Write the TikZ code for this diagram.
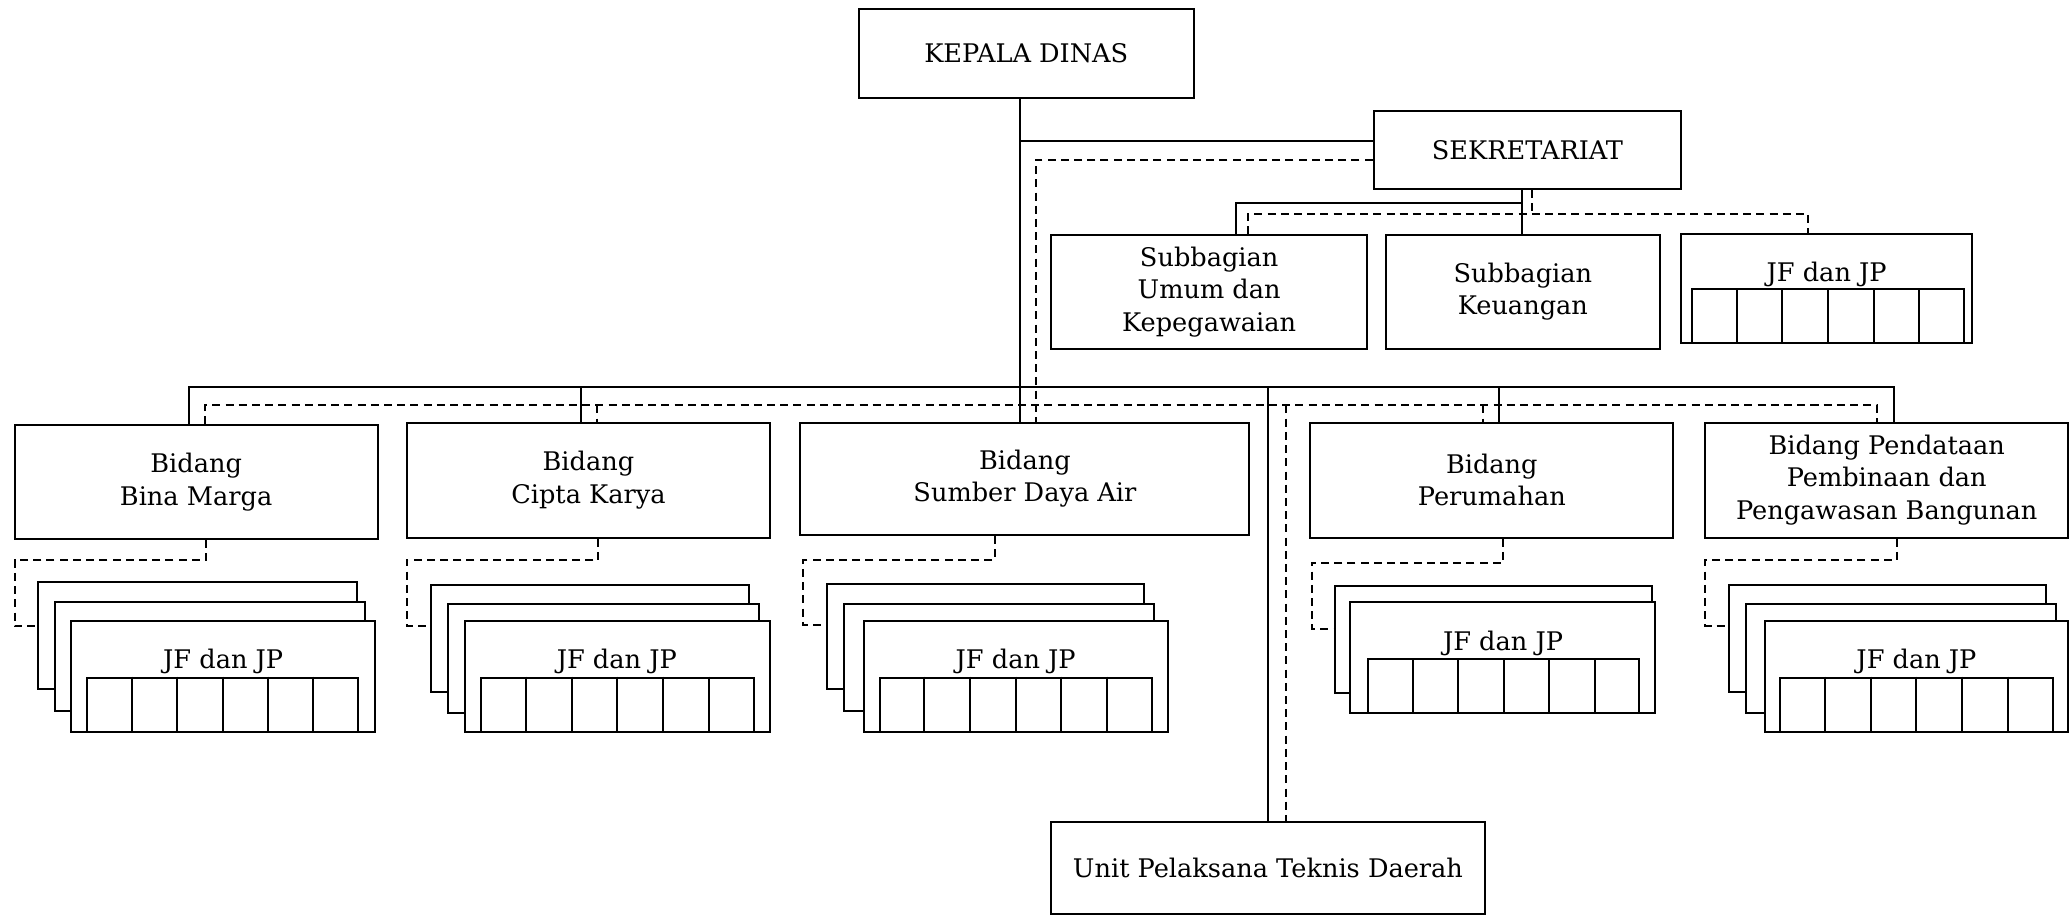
\documentclass[tikz,border=0pt]{standalone}
\usepackage{fontspec}
\setmainfont{DejaVu Serif}
\usetikzlibrary{calc}
\tikzset{
  bx/.style={draw, line width=1pt, fill=white, inner sep=1pt, align=center,
             font=\fontsize{12.8}{16.2}\selectfont},
  lbl/.style={inner sep=0pt, font=\fontsize{12.8}{16.2}\selectfont},
  sl/.style={line width=1pt},
  dl/.style={line width=1pt, dash pattern=on 4pt off 2.6pt},
}
\newcommand{\bx}[7][]{\node[bx,#1,minimum width={(#5-#3)*0.66pt},minimum height={(#6-#4)*0.66pt}] (#2) at ({(#3+#5)/2},{(#4+#6)/2}) {#7};}
\newcommand{\grid}[5]{\bx{#1}{#2}{#3}{#4}{#5}{}%
  \foreach \i in {1,...,5}{\draw[sl] ($(#1.north west)!\i/6!(#1.north east)$) -- ($(#1.south west)!\i/6!(#1.south east)$);}}
\begin{document}
\begin{tikzpicture}[x=0.66pt,y=-0.66pt]
\useasboundingbox (0,0) rectangle (1568,694);
% top level
\bx{kd}{650}{7}{904}{74}{KEPALA DINAS}
\bx{sek}{1040}{84}{1273}{143}{SEKRETARIAT}
\bx{sub}{796}{178}{1035}{264}{Subbagian\\Umum dan\\Kepegawaian}
\bx{keu}{1049}{178}{1257}{264}{Subbagian\\Keuangan}
\bx{jft}{1273}{177}{1493}{260}{}
\node[lbl] (jftt) at (1383,208) {JF dan JP};
\grid{jftg}{1281}{219}{1487}{260}
% bidang
\bx{bm}{11}{322}{286}{408}{Bidang\\Bina Marga}
\bx{ck}{308}{320}{583}{407}{Bidang\\Cipta Karya}
\bx{sda}{606}{320}{946}{405}{Bidang\\Sumber Daya Air}
\bx{per}{992}{320}{1267}{407}{Bidang\\Perumahan}
\bx{pen}{1291}{320}{1566}{407}{Bidang Pendataan\\Pembinaan dan\\Pengawasan Bangunan}
\bx{upt}{796}{622}{1124}{692}{Unit Pelaksana Teknis Daerah}
% stacks
\bx{bm1}{29}{441}{270}{522}{}
\bx{bm2}{42}{456}{276}{538}{}
\bx{bm3}{54}{470}{284}{554}{}
\node[lbl] (bmt) at (169,501) {JF dan JP};
\grid{bmg}{66}{513}{271}{554}
\bx{ck1}{326}{443}{567}{524}{}
\bx{ck2}{339}{457}{575}{540}{}
\bx{ck3}{352}{470}{583}{554}{}
\node[lbl] (ckt) at (467,501) {JF dan JP};
\grid{ckg}{364}{513}{571}{554}
\bx{sda1}{626}{442}{866}{522}{}
\bx{sda2}{639}{457}{874}{538}{}
\bx{sda3}{654}{470}{884}{554}{}
\node[lbl] (sdat) at (769,501) {JF dan JP};
\grid{sdag}{666}{513}{872}{554}
\bx{per1}{1011}{444}{1251}{525}{}
\bx{per2}{1022}{456}{1253}{540}{}
\node[lbl] (pert) at (1138,487) {JF dan JP};
\grid{perg}{1036}{499}{1241}{540}
\bx{pen1}{1309}{443}{1549}{524}{}
\bx{pen2}{1322}{457}{1557}{540}{}
\bx{pen3}{1336}{470}{1566}{554}{}
\node[lbl] (pent) at (1451,501) {JF dan JP};
\grid{peng}{1348}{513}{1554}{554}
% main line
\coordinate (j1) at (772,107);
\coordinate (j2) at (784,121);
\draw[sl] (j1 |- kd.south) -- (j1 |- sda.north);
\draw[sl] (j1) -- (j1 -| sek.west);
\draw[dl] (j2 -| sek.west) -- (j2) -- (j2 |- sda.north);
% sekretariat children
\coordinate (s1) at (1152,154);
\coordinate (s2) at (936,154);
\draw[sl] (s1 |- sek.south) -- (s1 |- keu.north);
\draw[sl] (s1) -- (s2) -- (s2 |- sub.north);
\coordinate (d1) at (1160,162);
\coordinate (d2) at (945,162);
\coordinate (d3) at (1369,162);
\draw[dl] (d1 |- sek.south) -- (d1);
\draw[dl] (d2 |- sub.north) -- (d2) -- (d3) -- (d3 |- jft.north);
% solid bus
\coordinate (sbm) at (143,293);
\coordinate (sck) at (440,293);
\coordinate (sup) at (960,293);
\coordinate (spe) at (1135,293);
\coordinate (spn) at (1434,293);
\draw[sl] (sbm |- bm.north) -- (sbm) -- (spn) -- (spn |- pen.north);
\draw[sl] (sck) -- (sck |- ck.north);
\draw[sl] (sup) -- (sup |- upt.north);
\draw[sl] (spe) -- (spe |- per.north);
% dashed bus
\coordinate (dbm) at (155,307);
\coordinate (dck) at (452,307);
\coordinate (dup) at (974,307);
\coordinate (dpe) at (1123,307);
\coordinate (dpn) at (1421,307);
\draw[dl] (dbm |- bm.north) -- (dbm) -- (dpn) -- (dpn |- pen.north);
\draw[dl] (dck) -- (dck |- ck.north);
\draw[dl] (dup) -- (dup |- upt.north);
\draw[dl] (dpe) -- (dpe |- per.north);
% dashed links to stacks
\coordinate (ebm) at (156,424); \coordinate (fbm) at (11,474);
\draw[dl] (ebm |- bm.south) -- (ebm) -- (fbm |- ebm) -- (fbm) -- (fbm -| bm1.west);
\coordinate (eck) at (453,424); \coordinate (fck) at (308,474);
\draw[dl] (eck |- ck.south) -- (eck) -- (fck |- eck) -- (fck) -- (fck -| ck1.west);
\coordinate (esd) at (753,424); \coordinate (fsd) at (608,473);
\draw[dl] (esd |- sda.south) -- (esd) -- (fsd |- esd) -- (fsd) -- (fsd -| sda1.west);
\coordinate (epe) at (1138,426); \coordinate (fpe) at (993,476);
\draw[dl] (epe |- per.south) -- (epe) -- (fpe |- epe) -- (fpe) -- (fpe -| per1.west);
\coordinate (epn) at (1436,424); \coordinate (fpn) at (1291,474);
\draw[dl] (epn |- pen.south) -- (epn) -- (fpn |- epn) -- (fpn) -- (fpn -| pen1.west);
\end{tikzpicture}
\end{document}
